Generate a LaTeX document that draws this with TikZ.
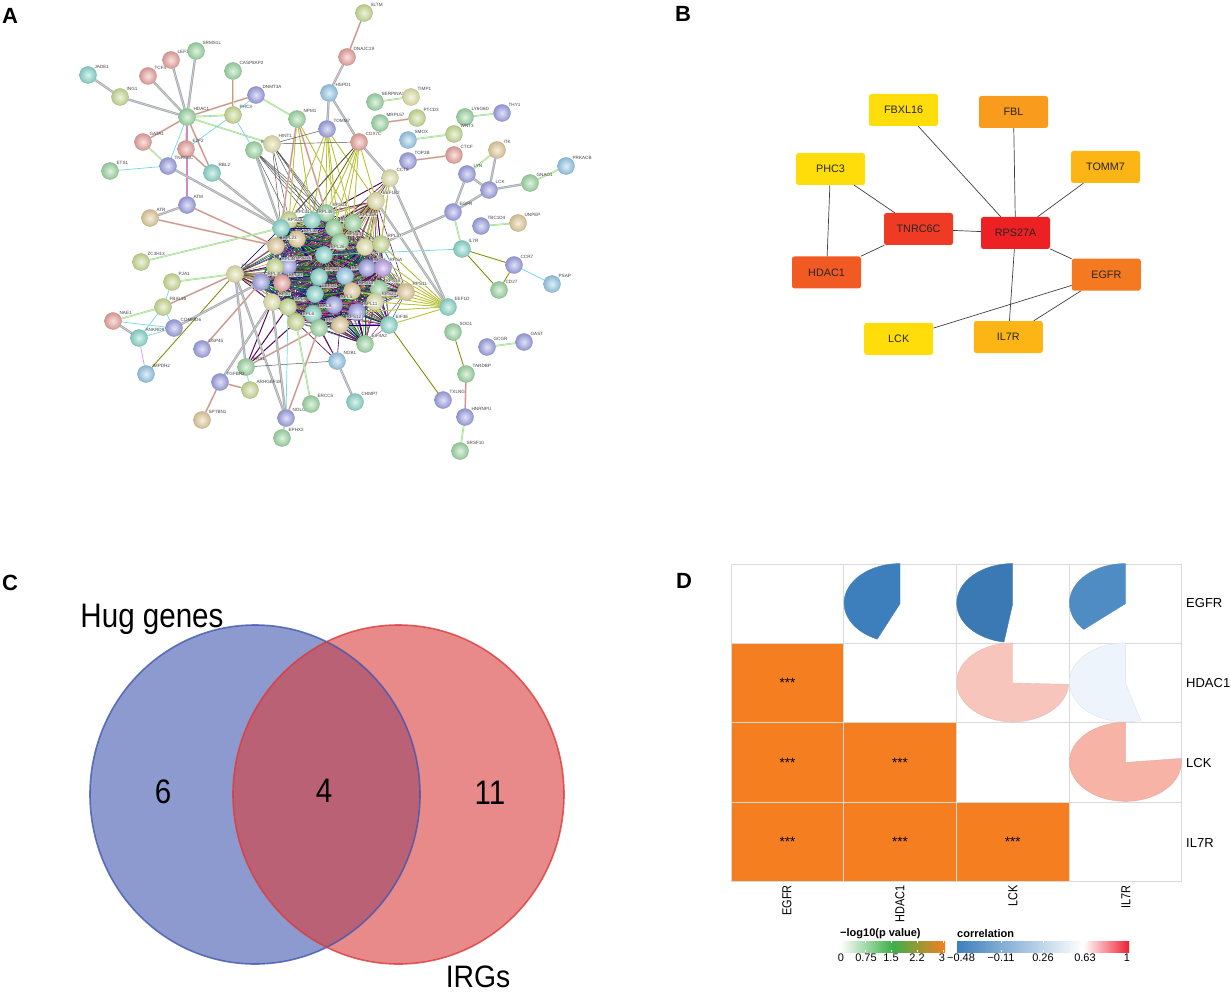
\documentclass[tikz,border=0pt]{standalone}
\usepackage{fontspec}
\setmainfont{Liberation Sans}
\setsansfont{Liberation Sans}
\usepackage{xcolor}
\usetikzlibrary{backgrounds}

% ball colours of the network
\definecolor{sgreen}{HTML}{9AD4A0}
\definecolor{steal}{HTML}{88D4C8}
\definecolor{solive}{HTML}{C6D890}
\definecolor{scream}{HTML}{DEDEA8}
\definecolor{spink}{HTML}{E6A09A}
\definecolor{sblue}{HTML}{9A9EE0}
\definecolor{ssky}{HTML}{94C6E4}
\definecolor{stan}{HTML}{DEC898}
\definecolor{spurp}{HTML}{B89CE4}
% link colours of the network
\definecolor{lcyan}{HTML}{6FD8E6}
\definecolor{lpink}{HTML}{CF88C8}
\definecolor{lyellow}{HTML}{E6EC78}
\definecolor{lolive}{HTML}{9CA33A}
% diagram colours
\definecolor{hubred}{HTML}{ED2024}
\definecolor{hubtomato}{HTML}{EF3B24}
\definecolor{hubdeep}{HTML}{F15A22}
\definecolor{hubdark}{HTML}{F47920}
\definecolor{hubmid}{HTML}{F99B1C}
\definecolor{hubamber}{HTML}{FDB515}
\definecolor{hubyellow}{HTML}{FEDD0A}
\definecolor{vennblue}{RGB}{65,87,175}
\definecolor{vennred}{RGB}{217,60,60}
\definecolor{corange}{HTML}{F57F20}
\definecolor{cgrid}{HTML}{D9D9D9}
\definecolor{barblue}{HTML}{3D7FBD}
\definecolor{bargreen}{HTML}{3CB04A}
\definecolor{barred}{HTML}{EE2030}
\definecolor{piesalmon}{HTML}{F7C5BC}
\definecolor{pieflesh}{HTML}{F6B3A6}
\definecolor{pieice}{HTML}{EEF4FB}

\tikzset{
    glab/.style={font=\fontsize{4.6}{5}\selectfont, text=black!75, inner sep=0.3pt},
    cglab/.style={glab, fill=white, fill opacity=0.6, text opacity=1},
    gene/.style 2 args={circle, draw=#1!65!gray, line width=0.4pt, inner color=#1!30!white,
        outer color=#1!93!black, minimum size=17pt, inner sep=0pt, label={[glab]45:#2}},
    cgene/.style 2 args={circle, draw=#1!65!gray, line width=0.4pt, inner color=#1!30!white,
        outer color=#1!93!black, minimum size=17pt, inner sep=0pt, label={[cglab]45:#2}},
    strlink/.style={draw=lcyan, line width=2.4pt, postaction={draw=lpink, line width=1.6pt},
        postaction={draw=lyellow, line width=0.5pt}},
    pklink/.style={draw=lyellow, line width=1.9pt, postaction={draw=lpink, line width=1.1pt}},
    cylink/.style={draw=lcyan, line width=0.7pt},
    yellink/.style={draw=lcyan, line width=1.6pt, postaction={draw=lyellow, line width=0.9pt}},
    olink/.style={draw=lyellow, line width=1.3pt, postaction={draw=lolive!60!black, line width=0.5pt}},
    fanlink/.style={draw=lyellow, line width=1.1pt, postaction={draw=lolive, line width=0.4pt}},
    blklink/.style={draw=black!70, line width=0.45pt},
    hubbox/.style={rectangle, rounded corners=2.5pt, fill=#1, minimum width=69pt, minimum height=32pt,
        inner sep=0pt, text=black!85, font=\fontsize{10.8}{12}\selectfont},
    hublink/.style={draw=black!75, line width=0.7pt},
    panel/.style={font=\fontsize{22}{24}\selectfont\bfseries, inner sep=0pt},
    venntext/.style={font=\fontsize{34}{36}\selectfont, inner sep=0pt, xscale=0.87},
    cell/.style={rectangle, draw=cgrid, line width=0.8pt, minimum width=112.7pt, minimum height=79.5pt, inner sep=0pt},
    hitcell/.style={cell, fill=corange, font=\fontsize{13.5}{14}\selectfont},
    pie/.style={fill=#1, draw=#1!85!gray, line width=0.4pt},
    rowtext/.style={font=\fontsize{13}{14}\selectfont, anchor=west, inner sep=0pt},
    coltext/.style={font=\fontsize{13}{14}\selectfont, anchor=east, inner sep=0pt, rotate=90, xscale=0.84},
    legtext/.style={font=\fontsize{11}{12}\selectfont, inner sep=0pt},
    legtitle/.style={font=\fontsize{11}{12}\selectfont\bfseries, inner sep=0pt},
}

% #1 cell, #2 end angle, #3 colour
\newcommand{\corrpie}[3]{
    \path[pie=#3] (#1.center) -- (#1.north)
        arc[start angle=90, end angle=#2, x radius=56pt, y radius=39.5pt] -- cycle;
}

\begin{document}
\begin{tikzpicture}[x=1pt, y=-1pt]
    \useasboundingbox (0,0) rectangle (1231,992);

    % Panel letters
    \node[panel] (pa) at (10,16) {A};
    \node[panel] (pb) at (683,14) {B};
    \node[panel] (pc) at (10,583) {C};
    \node[panel] (pd) at (684,581) {D};

    % A: genes around the core
    \node[gene={steal}{JADE1}]     (jade1)   at (88,75) {};
    \node[gene={solive}{ING1}]     (ing1)    at (120,97) {};
    \node[gene={spink}{TCF4}]      (tcf4)    at (148,76) {};
    \node[gene={spink}{LEF1}]      (lef1)    at (171,60) {};
    \node[gene={sgreen}{SRMS1L}]   (srms1l)  at (196,51) {};
    \node[gene={sgreen}{CASP8AP2}] (casp)    at (233,71) {};
    \node[gene={sblue}{DNMT3A}]    (dnmt3a)  at (256,95) {};
    \node[gene={sgreen}{HDAC1}]    (hdac1)   at (187,117) {};
    \node[gene={solive}{PHC3}]     (phc3)    at (233,115) {};
    \node[gene={sgreen}{NPM1}]     (npm1)    at (297,119) {};
    \node[gene={spink}{GATA1}]     (gata1)   at (143,142) {};
    \node[gene={spink}{E2F2}]      (e2f2)    at (186,149) {};
    \node[gene={sgreen}{ETS1}]     (ets1)    at (110,171) {};
    \node[gene={sblue}{TNRC6C}]    (tnrc6c)  at (168,166) {};
    \node[gene={steal}{RBL2}]      (rbl2)    at (212,173) {};
    \node[gene={sgreen}{SNAPC5}]   (snapc5)  at (254,150) {};
    \node[gene={scream}{HINT1}]    (hint1)   at (272,144) {};
    \node[gene={sblue}{ATM}]       (atm)     at (187,205) {};
    \node[gene={stan}{ATR}]        (atr)     at (150,218) {};
    \node[gene={solive}{SLTM}]     (sltm)    at (364,13) {};
    \node[gene={spink}{DNAJC19}]   (dnajc19) at (347,57) {};
    \node[gene={ssky}{HSPD1}]      (hspd1)   at (329,93) {};
    \node[gene={sgreen}{SERPINA1}] (serpina1) at (375,102) {};
    \node[gene={scream}{TIMP1}]    (timp1)   at (411,97) {};
    \node[gene={sgreen}{MRPL57}]   (mrpl57)  at (380,123) {};
    \node[gene={solive}{PTCD3}]    (ptcd3)   at (417,118) {};
    \node[gene={sgreen}{LY6G6D}]   (ly6g6d)  at (465,117) {};
    \node[gene={sblue}{THY1}]      (thy1)    at (502,113) {};
    \node[gene={ssky}{SMOX}]       (smox)    at (408,140) {};
    \node[gene={solive}{WNT3}]     (wnt3)    at (454,134) {};
    \node[gene={sblue}{TOMM7}]     (tomm7)   at (327,129) {};
    \node[gene={spink}{COX7C}]     (cox7c)   at (359,142) {};
    \node[gene={sblue}{TOP2B}]     (top2b)   at (408,161) {};
    \node[gene={spink}{CTCF}]      (ctcf)    at (454,155) {};
    \node[gene={stan}{ITK}]        (itk)     at (497,150) {};
    \node[gene={sblue}{LYN}]       (lyn)     at (467,174) {};
    \node[gene={sblue}{LCK}]       (lck)     at (489,190) {};
    \node[gene={sgreen}{GNAO1}]    (gnao1)   at (530,183) {};
    \node[gene={ssky}{PRKACB}]     (prkacb)  at (566,166) {};
    \node[gene={scream}{CCT8}]     (cct8)    at (390,178) {};
    \node[gene={sblue}{EGFR}]      (egfr)    at (453,212) {};
    \node[gene={sblue}{TBC1D4}]    (tbc1d4)  at (481,226) {};
    \node[gene={stan}{UNPEP}]      (unpep)   at (518,223) {};
    \node[gene={steal}{IL7R}]      (il7r)    at (462,249) {};
    \node[gene={sblue}{CCR7}]      (ccr7)    at (514,265) {};
    \node[gene={sgreen}{CD27}]     (cd27)    at (499,290) {};
    \node[gene={ssky}{PSAP}]       (psap)    at (552,284) {};
    \node[gene={steal}{EEF1D}]     (eef1d)   at (448,307) {};
    \node[gene={sgreen}{SOD1}]     (sod1)    at (453,332) {};
    \node[gene={sblue}{GCGR}]      (gcgr)    at (487,347) {};
    \node[gene={sblue}{GAST}]      (gast)    at (524,342) {};
    \node[gene={sgreen}{TARDBP}]   (tardbp)  at (466,374) {};
    \node[gene={sblue}{TXLNG}]     (txlng)   at (443,400) {};
    \node[gene={sblue}{HNRNPU}]    (hnrnpu)  at (465,417) {};
    \node[gene={sgreen}{SRSF10}]   (srsf10)  at (460,451) {};
    \node[gene={steal}{CHMP7}]     (chmp7)   at (355,402) {};
    \node[gene={ssky}{NOB1}]       (nob1)    at (337,361) {};
    \node[gene={solive}{ZC3H13}]   (zc3h13)  at (141,262) {};
    \node[gene={solive}{PJA1}]     (pja1)    at (172,282) {};
    \node[gene={solive}{FBXL16}]   (fbxl16)  at (163,307) {};
    \node[gene={spink}{NAE1}]      (nae1)    at (113,321) {};
    \node[gene={sblue}{COMMD6}]    (commd6)  at (174,328) {};
    \node[gene={steal}{ANKRD9}]    (ankrd9)  at (139,338) {};
    \node[gene={sblue}{USP45}]     (usp45)   at (202,349) {};
    \node[gene={ssky}{IMPDH2}]     (impdh2)  at (146,374) {};
    \node[gene={sgreen}{RRS1}]     (rrs1)    at (246,367) {};
    \node[gene={sblue}{TGFBR2}]    (tgfbr2)  at (220,382) {};
    \node[gene={solive}{ARHGEF18}] (arhgef)  at (250,390) {};
    \node[gene={stan}{SPTBN1}]     (sptbn1)  at (202,420) {};
    \node[gene={sblue}{NOLC1}]     (nolc1)   at (286,418) {};
    \node[gene={sgreen}{ERCC5}]    (ercc5)   at (311,404) {};
    \node[gene={sgreen}{EPHX2}]    (ephx2)   at (282,438) {};

    % A: the core
    \node[cgene={scream}{EEF1B2}]  (eef1b2)  at (376,201) {};
    \node[cgene={sgreen}{RPS28}]   (rps28)   at (326,213) {};
    \node[cgene={steal}{RPL36}]    (rpl36)   at (312,220) {};
    \node[cgene={solive}{RPL31}]   (rpl31)   at (289,220) {};
    \node[cgene={steal}{RPS29}]    (rps29)   at (281,228) {};
    \node[cgene={sgreen}{RPS30}]   (rps30)   at (334,228) {};
    \node[cgene={sgreen}{RPL35A}]  (rpl35a)  at (353,223) {};
    \node[cgene={stan}{RPL32}]     (rpl32)   at (297,239) {};
    \node[cgene={stan}{RPL23}]     (rpl23)   at (276,246) {};
    \node[cgene={sgreen}{RPS10}]   (rps10)   at (340,242) {};
    \node[cgene={scream}{RPS25}]   (rps25)   at (365,247) {};
    \node[cgene={solive}{RPL37}]   (rpl37)   at (381,244) {};
    \node[cgene={steal}{RPL26}]    (rpl26)   at (324,255) {};
    \node[cgene={sblue}{RPS27L}]   (rps27l)  at (288,266) {};
    \node[cgene={solive}{RPL34}]   (rpl34)   at (275,267) {};
    \node[gene={scream}{FTL}]      (ftl)     at (235,274) {};
    \node[cgene={sblue}{RPL30}]    (rpl30)   at (261,282) {};
    \node[cgene={spink}{RPL27}]    (rpl27)   at (282,283) {};
    \node[cgene={steal}{RPS21}]    (rps21)   at (319,277) {};
    \node[cgene={ssky}{RPS8}]      (rps8)    at (345,276) {};
    \node[cgene={sblue}{RPS3}]     (rps3)    at (367,268) {};
    \node[cgene={spurp}{RPSA}]     (rpsa)    at (383,268) {};
    \node[cgene={sgreen}{RPS15}]   (rps15)   at (379,289) {};
    \node[cgene={stan}{RPS11}]     (rps11)   at (406,292) {};
    \node[cgene={stan}{RPS13}]     (rps13)   at (352,291) {};
    \node[cgene={steal}{EEF1G}]    (eef1g)   at (315,294) {};
    \node[cgene={scream}{RPS7}]    (rps7)    at (272,302) {};
    \node[cgene={solive}{RPL4}]    (rpl4)    at (288,307) {};
    \node[cgene={sblue}{RPL5}]     (rpl5)    at (334,305) {};
    \node[cgene={scream}{RPS23}]   (rps23)   at (375,302) {};
    \node[cgene={steal}{RPL9}]     (rpl9)    at (313,314) {};
    \node[cgene={sblue}{RPL11}]    (rpl11)   at (357,312) {};
    \node[cgene={solive}{RPL6}]    (rpl6)    at (296,322) {};
    \node[cgene={sgreen}{RPS24}]   (rps24)   at (319,328) {};
    \node[cgene={stan}{RPS12}]     (rps12)   at (340,325) {};
    \node[cgene={steal}{EIF3E}]    (eif3e)   at (389,325) {};
    \node[cgene={sgreen}{EIF4A2}]  (eif4a2)  at (365,344) {};

    \begin{scope}[on background layer]
        % Mesh of the core
        \foreach \a [count=\i] in {eef1b2,rps28,rpl36,rpl31,rps29,rps30,rpl35a,rpl32,rpl23,rps10,rps25,rpl37,rpl26,rps27l,rpl34,ftl,rpl30,rpl27,rps21,rps8,rps3,rpsa,rps15,rps11,rps13,eef1g,rps7,rpl4,rpl5,rps23,rpl9,rpl11,rpl6,rps24,rps12,eif3e,eif4a2}
            \foreach \b [count=\j] in {eef1b2,rps28,rpl36,rpl31,rps29,rps30,rpl35a,rpl32,rpl23,rps10,rps25,rpl37,rpl26,rps27l,rpl34,ftl,rpl30,rpl27,rps21,rps8,rps3,rpsa,rps15,rps11,rps13,eef1g,rps7,rpl4,rpl5,rps23,rpl9,rpl11,rpl6,rps24,rps12,eif3e,eif4a2} {
                \ifnum\j>\i
                    \pgfmathtruncatemacro{\k}{mod(\i*7+\j*3,6)}
                    \ifcase\k
                        \draw[teal!80!black, line width=0.5pt] (\a) -- (\b);
                    \or
                        \draw[violet!70!black, line width=0.5pt] (\a) -- (\b);
                    \or
                        \draw[green!55!black, line width=0.5pt] (\a) -- (\b);
                    \or
                        \draw[magenta!75!black, line width=0.5pt] (\a) -- (\b);
                    \or
                        \draw[lolive, line width=0.5pt] (\a) -- (\b);
                    \or
                        \draw[blue!60!black, line width=0.5pt] (\a) -- (\b);
                    \fi
                \fi
            }

        % Fans into the core
        \foreach \b in {rpl37,rps25,eef1b2,rpl35a,rps30,rps28,rps10,rpl36}
            \draw[violet!60!black, line width=0.6pt] (cct8) -- (\b);
        \foreach \b in {rpl37,rps25,rps10}
            \draw[fanlink] (cct8) -- (\b);
        \foreach \b in {rpl31,rpl36,rps28,rps30,rpl35a,eef1b2,rps10}
            \draw[fanlink] (cox7c) -- (\b) (tomm7) -- (\b);
        \foreach \b in {rps29,rpl31,rpl36,rps28,rps30,rps10}
            \draw[blklink] (hint1) -- (\b) (snapc5) -- (\b);
        \foreach \b in {rpl31,rpl36,rpl35a}
            \draw[fanlink] (npm1) -- (\b);
        \foreach \b in {rpl31,rps29,rpl36}
            \draw[blklink] (cox7c) -- (\b);
        \foreach \b in {rpl37,rps25,rpsa,rps3,rps15,rps11,rps23,eif3e,rps13,rpl11}
            \draw[fanlink] (eef1d) -- (\b);
        \foreach \b in {rps7,rpl4,rpl6}
            \draw[violet!70!black, line width=1pt] (rrs1) -- (\b);
        \foreach \b in {rpl6,rps24,rps12,rpl9}
            \draw[violet!70!black, line width=0.6pt] (nob1) -- (\b);
        \foreach \b in {rps24,rps12,rpl9,rpl11}
            \draw[violet!70!black, line width=0.5pt] (eif4a2) -- (\b);

        % Links of panel A
        \path
            (jade1)   edge[strlink] (ing1)
            (ing1)    edge[strlink] (hdac1)
            (tcf4)    edge[strlink] (hdac1)
            (lef1)    edge[strlink] (hdac1)
            (srms1l)  edge[strlink] (hdac1)
            (dnmt3a)  edge[pklink]  (hdac1)
            (gata1)   edge[pklink]  (hdac1)
            (e2f2)    edge[pklink]  (hdac1)
            (rbl2)    edge[pklink]  (hdac1)
            (tnrc6c)  edge[cylink]  (hdac1)
            (atm)     edge[pklink]  (hdac1)
            (phc3)    edge[yellink] (hdac1)
            (hdac1)   edge[yellink] (hint1)
            (casp)    edge[strlink] (phc3)
            (dnmt3a)  edge[cylink]  (phc3)
            (e2f2)    edge[cylink]  (phc3)
            (phc3)    edge[cylink]  (snapc5)
            (gata1)   edge[yellink] (tnrc6c)
            (ets1)    edge[cylink]  (tnrc6c)
            (e2f2)    edge[pklink]  (rbl2)
            (atm)     edge[strlink] (atr)
            (dnmt3a)  edge[yellink] (npm1)
            (tnrc6c)  edge[strlink] (rps29)
            (rbl2)    edge[strlink] (rps29)
            (snapc5)  edge[strlink] (rps29)
            (npm1)    edge[pklink]  (rps29)
            (npm1)    edge[pklink]  (rps28)
            (atr)     edge[pklink]  (rpl23)
            (atm)     edge[pklink]  (rpl23)
            (zc3h13)  edge[yellink] (rps29)
            (sltm)    edge[pklink]  (dnajc19)
            (dnajc19) edge[strlink] (hspd1)
            (hspd1)   edge[strlink] (tomm7)
            (hspd1)   edge[strlink] (cox7c)
            (cox7c)   edge[strlink] (cct8)
            (tomm7)   edge[blklink] (hint1)
            (cox7c)   edge[blklink] (hint1)
            (serpina1) edge[yellink] (timp1)
            (mrpl57)  edge[pklink]  (ptcd3)
            (ly6g6d)  edge[yellink] (thy1)
            (smox)    edge[yellink] (wnt3)
            (top2b)   edge[pklink]  (ctcf)
            (lyn)     edge[yellink] (itk)
            (lck)     edge[strlink] (itk)
            (lyn)     edge[strlink] (lck)
            (lck)     edge[strlink] (gnao1)
            (gnao1)   edge[yellink] (prkacb)
            (egfr)    edge[strlink] (lyn)
            (egfr)    edge[strlink] (lck)
            (egfr)    edge[yellink] (il7r)
            (egfr)    edge[strlink] (rpl37)
            (tbc1d4)  edge[yellink] (unpep)
            (il7r)    edge[cylink]  (rpl26)
            (il7r)    edge[olink]   (ccr7)
            (il7r)    edge[olink]   (cd27)
            (ccr7)    edge[olink]   (cd27)
            (ccr7)    edge[cylink]  (psap)
            (cct8)    edge[strlink] (eef1d)
            (eef1b2)  edge[strlink] (eef1d)
            (sod1)    edge[olink]   (tardbp)
            (gcgr)    edge[yellink] (gast)
            (tardbp)  edge[pklink]  (hnrnpu)
            (hnrnpu)  edge[yellink] (srsf10)
            (txlng)   edge[olink]   (eif3e)
            (chmp7)   edge[strlink] (nob1)
            (ftl)     edge[yellink] (pja1)
            (ftl)     edge[pklink]  (fbxl16)
            (ftl)     edge[olink]   (impdh2)
            (ftl)     edge[strlink] (rrs1)
            (ftl)     edge[strlink] (nolc1)
            (rpl30)   edge[strlink] (commd6)
            (rpl30)   edge[pklink]  (usp45)
            (pja1)    edge[cylink]  (fbxl16)
            (nae1)    edge[yellink] (fbxl16)
            (nae1)    edge[strlink] (ankrd9)
            (nae1)    edge[cylink]  (commd6)
            (ankrd9)  edge[cylink]  (fbxl16)
            (ankrd9)  edge[cylink]  (commd6)
            (fbxl16)  edge[cylink]  (commd6)
            (ankrd9)  edge[draw=lpink, line width=0.6pt] (impdh2)
            (tgfbr2)  edge[strlink] (rps7)
            (tgfbr2)  edge[pklink]  (arhgef)
            (tgfbr2)  edge[pklink]  (sptbn1)
            (rrs1)    edge[cylink]  (arhgef)
            (rrs1)    edge[blklink] (nob1)
            (rrs1)    edge[pklink]  (rps24)
            (nolc1)   edge[strlink] (rps7)
            (nolc1)   edge[pklink]  (rps24)
            (nolc1)   edge[cylink]  (rpl4)
            (nolc1)   edge[yellink] (ephx2)
            (ercc5)   edge[yellink] (rpl6);
    \end{scope}

    % B: the hub genes
    \node[hubbox=hubyellow]  (bfbxl)  at (903.5,110) {FBXL16};
    \node[hubbox=hubmid]     (bfbl)   at (1013.5,112) {FBL};
    \node[hubbox=hubamber]   (btomm)  at (1105.5,167) {TOMM7};
    \node[hubbox=hubyellow]  (bphc)   at (830.5,169) {PHC3};
    \node[hubbox=hubtomato]  (btnrc)  at (918.5,229) {TNRC6C};
    \node[hubbox=hubred]     (brps)   at (1015.5,233) {RPS27A};
    \node[hubbox=hubdeep]    (bhdac)  at (826.5,272.5) {HDAC1};
    \node[hubbox=hubdark]    (begfr)  at (1106.3,274.7) {EGFR};
    \node[hubbox=hubyellow]  (blck)   at (898.7,338.8) {LCK};
    \node[hubbox=hubamber]   (bil7r)  at (1008.3,337) {IL7R};

    % Connect the hub genes
    \draw[hublink]
        (bfbxl) edge (brps)
        (bfbl)  edge (brps)
        (btomm) edge (brps)
        (btnrc) edge (brps)
        (begfr) edge (brps)
        (bil7r) edge (brps)
        (bphc)  edge (bhdac)
        (bphc)  edge (btnrc)
        (bhdac) edge (btnrc)
        (begfr) edge (blck)
        (begfr) edge (bil7r);

    % C: the two sets
    \fill[vennblue, fill opacity=0.6] (255,794.5) ellipse [x radius=165pt, y radius=169.5pt];
    \fill[vennred, fill opacity=0.6] (398.5,794.5) ellipse [x radius=165.5pt, y radius=169.5pt];
    \draw[vennblue, opacity=0.8, line width=1.6pt] (255,794.5) ellipse [x radius=165pt, y radius=169.5pt];
    \draw[vennred, opacity=0.8, line width=1.6pt] (398.5,794.5) ellipse [x radius=165.5pt, y radius=169.5pt];
    \node[venntext] (hug)  at (152,619) {Hug genes};
    \node[venntext, font=\fontsize{31}{33}\selectfont, xscale=1.05] (irgs) at (478,977) {IRGs};
    \node[venntext] (nl)   at (163,792) {6};
    \node[venntext] (nm)   at (324,791) {4};
    \node[venntext] (nr)   at (490,793) {11};

    % D: the grid
    \node[cell]    (c11) at (787.4,603.7) {};
    \node[cell]    (c12) at (900,603.7) {};
    \node[cell]    (c13) at (1012.7,603.7) {};
    \node[cell]    (c14) at (1125.4,603.7) {};
    \node[hitcell] (c21) at (787.4,683) {***};
    \node[cell]    (c22) at (900,683) {};
    \node[cell]    (c23) at (1012.7,683) {};
    \node[cell]    (c24) at (1125.4,683) {};
    \node[hitcell] (c31) at (787.4,762.5) {***};
    \node[hitcell] (c32) at (900,762.5) {***};
    \node[cell]    (c33) at (1012.7,762.5) {};
    \node[cell]    (c34) at (1125.4,762.5) {};
    \node[hitcell] (c41) at (787.4,842) {***};
    \node[hitcell] (c42) at (900,842) {***};
    \node[hitcell] (c43) at (1012.7,842) {***};
    \node[cell]    (c44) at (1125.4,842) {};

    \corrpie{c12}{246}{barblue}
    \corrpie{c13}{261}{barblue!95!black}
    \corrpie{c14}{222}{barblue!90!white}
    \corrpie{c23}{357}{piesalmon}
    \corrpie{c24}{286}{pieice}
    \corrpie{c34}{365}{pieflesh}

    \node[rowtext] (rega) at (1186,603) {EGFR};
    \node[rowtext] (rhda) at (1186,683) {HDAC1};
    \node[rowtext] (rlck) at (1186,763) {LCK};
    \node[rowtext] (ril7) at (1186,843) {IL7R};
    \node[coltext] (cega) at (787,885) {EGFR};
    \node[coltext] (chda) at (900,885) {HDAC1};
    \node[coltext] (clck) at (1013,885) {LCK};
    \node[coltext] (cil7) at (1126,885) {IL7R};

    % D: the legends
    \node[legtitle, anchor=west] (tlog) at (840,934) {−log10(p value)};
    \node[legtitle, anchor=west] (tcor) at (957,934) {correlation};
    \shade[left color=white, right color=corange, middle color=bargreen] (840,941) rectangle (945,952);
    \shade[left color=barblue, right color=white] (957,941) rectangle (1083,952);
    \shade[left color=white, right color=barred] (1083,941) rectangle (1129,952);
    \foreach \t in {865.5,891.5,917,943,1001,1043.5,1086.5}
        \draw[white, line width=0.6pt] (\t,941) -- (\t,943.2) (\t,949.8) -- (\t,952);
    \foreach \t/\l in {841/0,866/0.75,891/1.5,917/2.2,942/3,961/−0.48,1001/−0.11,1043/0.26,1085/0.63,1127/1}
        \node[legtext] at (\t,958) {\l};
\end{tikzpicture}
\end{document}
